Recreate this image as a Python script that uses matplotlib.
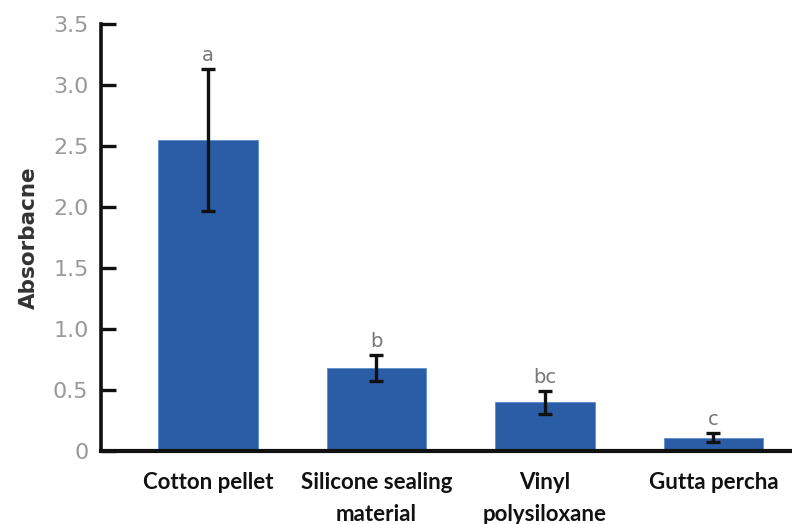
import matplotlib.pyplot as plt

categories = ['Cotton pellet', 'Silicone sealing\nmaterial', 'Vinyl\npolysiloxane', 'Gutta percha']
means = [2.55, 0.68, 0.40, 0.11]
errors = [0.58, 0.11, 0.095, 0.04]
letters = ['a', 'b', 'bc', 'c']
yticks = [0, 0.5, 1.0, 1.5, 2.0, 2.5, 3.0, 3.5]
ytick_labels = ['0', '0.5', '1.0', '1.5', '2.0', '2.5', '3.0', '3.5']

fig = plt.figure(figsize=(7.92, 5.24), dpi=100)
ax = fig.add_axes([101 / 792, 1 - 451 / 524, 1 - 101 / 792, (451 - 24) / 524])

x = list(range(len(categories)))
ax.bar(x, means, width=0.59, color='#2B5DA6', edgecolor='#5b8fd0', linewidth=0.6, zorder=2)
ax.errorbar(x, means, yerr=errors, fmt='none', ecolor='#111111', elinewidth=2.4,
            capsize=5, capthick=2.4, zorder=3)

for xi, m, e, lab in zip(x, means, errors, letters):
    ax.text(xi, m + e + 0.03, lab, ha='center', va='bottom', fontsize=14,
            color='#777777', family='DejaVu Sans')

ax.set_xlim(-0.635, 3.466)
ax.set_ylim(0, 3.5)
ax.set_yticks(yticks)
ax.set_yticklabels(ytick_labels, color='#999999', fontsize=16)
ax.set_xticks(x)
ax.set_xticklabels(categories, fontsize=16, fontweight='bold', family='Lato',
                   color='#111111', linespacing=1.65)

for s in ['top', 'right']:
    ax.spines[s].set_visible(False)
ax.spines['left'].set_linewidth(2.6)
ax.spines['bottom'].set_linewidth(3)
ax.spines['left'].set_color('#111111')
ax.spines['bottom'].set_color('#111111')
ax.spines['left'].set_clip_on(False)
ax.spines['bottom'].set_clip_on(False)

ax.tick_params(axis='y', direction='in', length=11, width=2.4, color='#111111', pad=9)
ax.tick_params(axis='x', length=0, pad=15)

ax.set_ylabel('Absorbacne', fontsize=15.5, fontweight='bold', color='#333333', labelpad=10)

fig.savefig('out.png', dpi=100)
